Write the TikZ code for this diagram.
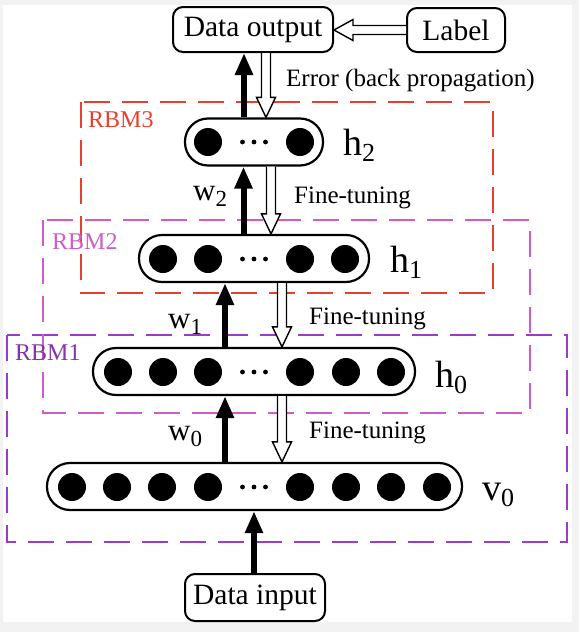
\documentclass[tikz,border=0pt]{standalone}
\usepackage{fontspec}
\setmainfont{Liberation Serif}
\usetikzlibrary{arrows.meta,calc}
\definecolor{rbmred}{HTML}{E8402E}
\definecolor{rbmpink}{HTML}{CF5CC9}
\definecolor{rbmpurple}{HTML}{9B3CC6}
\definecolor{edgegray}{HTML}{F2F2F2}
\newcommand\sublab[3]{#1\raisebox{-6pt}{\fontsize{#3}{#3}\selectfont #2}}
\begin{document}
\begin{tikzpicture}[x=1pt,y=-1pt,
  box/.style={draw, line width=2pt, rounded corners=10pt, inner sep=0pt, fill=white, font=\fontsize{29.5}{34}\selectfont},
  layer/.style={draw, line width=2.2pt, rounded corners=23pt, minimum height=47pt, inner sep=0pt, fill=white},
  neuron/.style={circle, fill=black, minimum size=28pt, inner sep=0pt},
  fwd/.style={line width=6pt, -{Triangle[length=22pt,width=17pt]}},
  hollowdown/.style={draw, line width=1.4pt, fill=white, to path={let \p1=(\tikztostart), \p2=(\tikztotarget) in ({\x1-4.5pt},\y1) -- ({\x1-4.5pt},{\y2+20pt}) -- ({\x1-9.5pt},{\y2+20pt}) -- (\x1,\y2) -- ({\x1+9.5pt},{\y2+20pt}) -- ({\x1+4.5pt},{\y2+20pt}) -- ({\x1+4.5pt},\y1)}},
  hollowleft/.style={draw, line width=1.4pt, fill=white, to path={let \p1=(\tikztostart), \p2=(\tikztotarget) in (\x1,{\y1+4.5pt}) -- ({\x2+19pt},{\y1+4.5pt}) -- ({\x2+19pt},{\y1+10.5pt}) -- (\x2,\y1) -- ({\x2+19pt},{\y1-10.5pt}) -- ({\x2+19pt},{\y1-4.5pt}) -- (\x1,{\y1-4.5pt})}},
  rbmbox/.style={line width=2pt, dash pattern=on 26pt off 12pt},
  rbmtext/.style={anchor=west, inner sep=0pt, font=\fontsize{24}{28}\selectfont},
  txt/.style={anchor=base west, inner sep=0pt, font=\fontsize{25}{30}\selectfont},
  wlab/.style={anchor=base west, inner sep=0pt, font=\fontsize{31}{36}\selectfont},
  hlab/.style={anchor=base west, inner sep=0pt, font=\fontsize{38}{44}\selectfont}
]
% background and margins
\fill[edgegray] (0,0) rectangle (579,632);
\fill[white] (3,5) rectangle (572,622);
\useasboundingbox (0,0) rectangle (579,632);

% RBM dashed boxes
\draw[rbmbox, rbmpurple] (6.7,335) rectangle (567,541.5);
\draw[rbmbox, rbmpink] (43,220) rectangle (530,413);
\draw[rbmbox, rbmred] (80.7,101.7) rectangle (493,293);
\node[rbmtext, text=rbmred] (t3) at (88,120) {RBM3};
\node[rbmtext, text=rbmpink] (t2) at (52,242) {RBM2};
\node[rbmtext, text=rbmpurple!85!black] (t1) at (15,353) {RBM1};

% boxes
\node[box, minimum width=160pt, minimum height=45pt] (dout) at (253,29.5) {Data output};
\node[box, minimum width=98pt, minimum height=44pt] (lab) at (456,30) {Label};
\node[box, minimum width=140pt, minimum height=47pt] (din) at (255,597.5) {Data input};

% layers
\node[layer, minimum width=415pt] (v0) at (254.5,486.5) {};
\node[layer, minimum width=322pt] (h0) at (254,371.5) {};
\node[layer, minimum width=230pt] (h1) at (254,258.5) {};
\node[layer, minimum width=138pt] (h2) at (254,142) {};

% neurons
\foreach \i/\x in {1/72,2/117,3/162,4/208,5/300,6/346,7/391,8/437}
  \node[neuron] (v0n\i) at (\x,487) {};
\foreach \i/\x in {1/118,2/163,3/208,4/300,5/346,6/391}
  \node[neuron] (h0n\i) at (\x,372) {};
\foreach \i/\x in {1/163,2/208,3/300,4/345}
  \node[neuron] (h1n\i) at (\x,259) {};
\foreach \i/\x in {1/208,2/300}
  \node[neuron] (h2n\i) at (\x,142) {};
% ellipsis dots
\foreach \y in {142,259,372,487}
  \foreach \x in {242.5,254,265.5}
    \fill (\x,\y) circle (2.4pt);

% helper x positions
\coordinate (xa) at (244,0);
\coordinate (xb) at (243.5,0);
\coordinate (xc) at (225,0);
\coordinate (xd) at (254,0);
\coordinate (ya) at (266,0);
\coordinate (yb) at (271,0);
\coordinate (yc) at (282,0);

% forward (black) arrows
\draw[fwd] (din.north -| xd) -- (v0.south -| xd);
\draw[fwd] (v0.north -| xc) -- (h0.south -| xc);
\draw[fwd] (h0.north -| xc) -- (h1.south -| xc);
\draw[fwd] (h1.north -| xb) -- (h2.south -| xb);
\draw[fwd] (h2.north -| xa) -- (dout.south -| xa);

% hollow (back propagation) arrows
\draw[hollowleft] (lab.west) to (dout.east);
\draw[hollowdown] (dout.south -| ya) to (h2.north -| ya);
\draw[hollowdown] (h2.south -| yb) to (h1.north -| yb);
\draw[hollowdown] (h1.south -| yc) to (h0.north -| yc);
\draw[hollowdown] (h0.south -| yc) to (v0.north -| yc);

% texts
\node[txt] (err) at (286,86) {Error (back propagation)};
\node[txt] (ft2) at (294,203) {Fine-tuning};
\node[txt] (ft1) at (309,324) {Fine-tuning};
\node[txt] (ft0) at (309,438) {Fine-tuning};
\node[wlab] (w2) at (193,200) {\sublab{w}{2}{23}};
\node[wlab] (w1) at (168,328) {\sublab{w}{1}{23}};
\node[wlab] (w0) at (168,440) {\sublab{w}{0}{23}};
\node[hlab] (lh2) at (343,155) {\sublab{h}{2}{26}};
\node[hlab] (lh1) at (390,272) {\sublab{h}{1}{26}};
\node[hlab] (lh0) at (435,387) {\sublab{h}{0}{26}};
\node[hlab] (lv0) at (482,500) {\sublab{v}{0}{26}};
\end{tikzpicture}
\end{document}
